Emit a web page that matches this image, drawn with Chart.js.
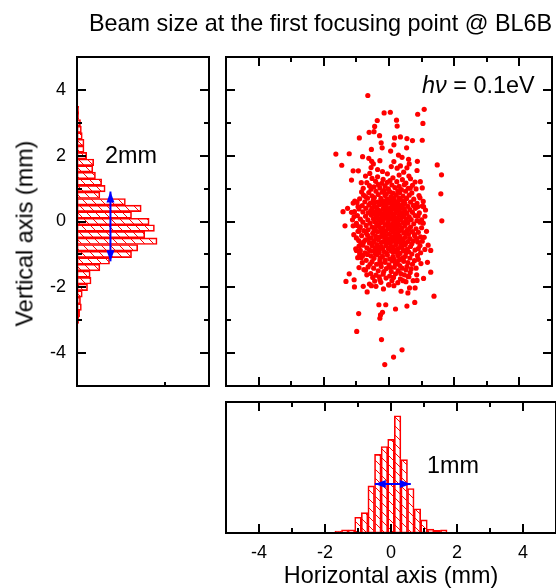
<!DOCTYPE html>
<html>
<head>
<meta charset="utf-8">
<script src="https://cdn.jsdelivr.net/npm/chart.js@4/dist/chart.umd.min.js"></script>
<style>
  body { margin: 0; background: #fff; font-family: "Liberation Sans", Arial, sans-serif; }
  #wrap { position: relative; width: 556px; height: 588px; overflow: hidden; }
  canvas { position: absolute; }
  .lbl { position: absolute; font-size: 23.4px; line-height: 23px; white-space: nowrap; color: #000; }
</style>
</head>
<body>
<div id="wrap">
  <canvas id="cLeft" width="215" height="400" style="left:0;top:0"></canvas>
  <canvas id="cScatter" width="336" height="400" style="left:220px;top:0"></canvas>
  <canvas id="cBottom" width="336" height="193" style="left:220px;top:395px"></canvas>

  <div class="lbl" style="left:89px;top:12px">Beam size at the first focusing point @ BL6B</div>
  <div class="lbl" style="left:-75px;top:222px;width:200px;text-align:center;transform:rotate(-90deg)">Vertical axis (mm)</div>
  <div class="lbl" style="left:105px;top:144px">2mm</div>
  <div class="lbl" style="left:427px;top:454px">1mm</div>
  <div class="lbl" style="left:422px;top:74px"><i>hν</i> = 0.1eV</div>
</div>

<script>
/* ---- data ---- */

// vertical profile (left histogram): bin centre in mm, counts
const vBins   = [3.8, 3.6, 3.4, 3.2, 3.0, 2.8, 2.6, 2.4, 2.2, 2.0, 1.8, 1.6, 1.4, 1.2, 1.0, 0.8, 0.6, 0.4, 0.2, 0.0,
                 -0.2, -0.4, -0.6, -0.8, -1.0, -1.2, -1.4, -1.6, -1.8, -2.0, -2.2, -2.4, -2.6, -2.8, -3.0,
                 -3.2, -3.4, -3.6, -3.8, -4.0, -4.2, -4.4];
const vCounts = [1, 1, 2, 2, 4, 5, 6, 8, 8, 11, 19, 18, 21, 28, 32, 26, 55, 73, 62, 82,
                 88, 77, 91, 69, 62, 37, 26, 15, 16, 12, 6, 4, 5, 3, 2,
                 1, 1, 1, 1, 1, 1, 1];

// horizontal profile (bottom histogram)
const hBins   = [-1.6, -1.4, -1.2, -1.0, -0.8, -0.6, -0.4, -0.2, 0.0, 0.2, 0.4, 0.6, 0.8, 1.0, 1.2, 1.4, 1.6];
const hCounts = [3, 5, 5, 24, 31, 72, 120, 132, 143, 179, 112, 68, 37, 20, 6, 4, 5];

// scatter: sparse outer points (x mm, y mm)
const scatterOuter = [
  [-0.65,3.83],[-0.15,3.30],[0.04,3.32],[0.88,3.26],[1.08,3.41],[-0.36,3.07],[0.23,3.08],[0.25,2.90],
  [-0.44,2.89],[1.04,2.98],[-0.61,2.71],[-0.46,2.73],[-0.91,2.54],[-0.29,2.61],[0.17,2.54],[0.35,2.57],
  [0.55,2.52],[1.02,2.47],[0.72,2.46],[-0.24,2.39],[0.15,2.33],[0.54,2.24],[-0.54,2.19],[-0.21,2.24],
  [-1.63,2.05],[-1.22,2.06],[-0.81,1.97],[-0.62,1.92],[0.05,2.14],[0.29,2.02],[0.60,1.89],[0.87,1.83],
  [-1.45,1.71],[-0.53,1.83],[-0.48,1.75],[0.15,1.82],[0.35,1.69],[1.48,1.72],[-1.10,1.54],[-0.94,1.54],
  [-0.55,1.64],[0.55,1.63],[0.86,1.55],[1.61,1.42],[-1.15,1.26],[-0.59,1.46],[0.07,1.67],[-0.20,1.52],
  [0.96,1.21],[0.61,1.38],[0.31,1.41],[-0.79,1.01],[0.65,1.01],[1.59,0.84],[-0.72,0.76],[-1.10,0.56],
  [-1.27,0.40],[-1.41,0.30],[1.05,0.61],[0.88,0.45],[1.06,0.45],[0.89,0.17],[-1.06,0.30],[-1.07,0.15],
  [-1.35,-0.13],[-1.10,-0.13],[1.62,0.02],[1.05,-0.05],[-0.90,-0.20],[-0.92,-0.30],[-1.02,-0.83],[-0.96,-1.10],
  [1.20,-0.72],[1.28,-0.88],[1.18,-1.24],[1.28,-1.54],[1.06,-1.73],[-1.22,-1.59],[-1.32,-1.82],[-1.07,-1.77],
  [-0.77,-1.46],[-0.67,-2.14],[-0.79,-1.97],[-1.06,-1.99],[-0.54,-1.95],[-0.40,-1.97],[-0.28,-1.77],[-0.17,-2.05],
  [-0.01,-1.92],[0.15,-1.95],[0.37,-2.12],[0.58,-2.17],[0.63,-2.02],[0.80,-2.02],[0.86,-1.79],[1.38,-2.27],
  [0.58,-1.67],[-0.31,-2.53],[-0.10,-2.53],[0.20,-2.66],[0.55,-2.57],[0.79,-2.46],[-0.20,-2.76],[-0.26,-2.84],
  [-0.28,-2.94],[-0.93,-2.80],[-0.99,-3.34],[-0.23,-3.59],[0.40,-3.90],[0.14,-4.12],[-0.13,-4.35]
];

// scatter: dense core points
const scatterCore = [
  [-0.52,1.31],[-0.18,1.28],[0.12,1.33],[0.41,1.27],[0.66,1.30],[-0.35,1.36],
  [-0.68,1.18],[-0.41,1.22],[-0.05,1.19],[0.24,1.21],[0.52,1.17],[0.03,1.24],[-0.22,1.16],
  [-0.60,1.09],[-0.33,1.12],[-0.12,1.08],[0.09,1.11],[0.31,1.07],[0.47,1.12],[0.72,1.10],[-0.46,1.05],
  [-0.55,0.98],[-0.28,1.02],[-0.02,0.99],[0.18,1.03],[0.38,0.97],[0.59,1.01],[0.83,0.99],[-0.15,0.95],[0.27,0.93],
  [-0.84,0.90],[-0.62,0.88],[-0.40,0.92],[-0.21,0.89],[0.02,0.91],[0.12,0.86],[0.33,0.88],[0.51,0.92],[0.70,0.87],[-0.08,0.84],
  [-0.78,0.80],[-0.52,0.78],[-0.33,0.82],[-0.12,0.79],[0.06,0.76],[0.22,0.81],[0.43,0.77],[0.62,0.80],[0.92,0.79],[-0.45,0.73],[0.30,0.72],
  [-0.90,0.69],[-0.66,0.71],[-0.48,0.66],[-0.25,0.70],[-0.05,0.68],[0.14,0.71],[0.35,0.66],[0.54,0.70],[0.76,0.68],[-0.15,0.63],[0.05,0.61],[0.44,0.62],
  [-0.98,0.58],[-0.74,0.60],[-0.57,0.56],[-0.36,0.59],[-0.22,0.55],[0.00,0.57],[0.19,0.54],[0.27,0.60],[0.49,0.56],[0.66,0.59],[0.86,0.55],[-0.08,0.52],
  [-0.82,0.48],[-0.62,0.50],[-0.44,0.46],[-0.29,0.51],[-0.10,0.45],[0.10,0.49],[0.23,0.44],[0.39,0.50],[0.58,0.46],[0.75,0.49],[1.02,0.47],[-0.52,0.41],[0.03,0.41],
  [-0.92,0.38],[-0.71,0.40],[-0.37,0.37],[-0.18,0.39],[-0.02,0.35],[0.14,0.38],[0.31,0.34],[0.47,0.39],[0.64,0.36],[0.81,0.40],[-0.56,0.33],[0.22,0.30],[-0.28,0.30],
  [-1.15,0.28],[-0.80,0.29],[-0.64,0.26],[-0.45,0.29],[-0.12,0.27],[0.06,0.29],[0.40,0.27],[0.55,0.25],[0.72,0.28],[0.93,0.26],[-0.34,0.22],[-0.04,0.20],[0.31,0.19],
  [-0.97,0.18],[-0.72,0.16],[-0.54,0.19],[-0.22,0.17],[0.13,0.16],[0.46,0.17],[0.62,0.14],[0.80,0.18],[1.10,0.16],[-0.40,0.12],[-0.10,0.10],[0.24,0.09],[0.53,0.07],
  [-0.88,0.07],[-0.65,0.05],[-0.48,0.08],[-0.30,0.04],[-0.18,0.02],[0.01,0.06],[0.14,0.02],[0.35,0.05],[0.68,0.06],[0.86,0.03],[-0.80,-0.02],[-0.04,-0.04],[0.44,-0.03],[0.22,-0.06],
  [-1.00,-0.06],[-0.58,-0.05],[-0.37,-0.08],[-0.24,-0.03],[-0.12,-0.10],[0.08,-0.09],[0.32,-0.11],[0.58,-0.04],[0.76,-0.07],[0.95,-0.02],[-0.70,-0.12],[0.49,-0.13],[0.15,-0.15],
  [-0.88,-0.16],[-0.52,-0.17],[-0.43,-0.22],[-0.30,-0.15],[-0.18,-0.20],[-0.03,-0.18],[0.04,-0.24],[0.24,-0.21],[0.40,-0.19],[0.66,-0.17],[0.83,-0.22],[1.00,-0.19],[-0.64,-0.25],[0.55,-0.27],[-0.10,-0.29],
  [-0.95,-0.30],[-0.77,-0.28],[-0.35,-0.31],[-0.22,-0.35],[0.12,-0.32],[0.31,-0.30],[0.45,-0.34],[0.72,-0.31],[0.90,-0.33],[-0.50,-0.36],[0.00,-0.38],[0.20,-0.40],[0.60,-0.39],
  [-0.84,-0.43],[-0.66,-0.41],[-0.41,-0.44],[-0.28,-0.47],[-0.13,-0.42],[0.08,-0.46],[0.34,-0.45],[0.50,-0.48],[0.79,-0.44],[0.97,-0.47],[-0.55,-0.50],[-0.04,-0.52],[0.25,-0.53],[0.64,-0.52],
  [-0.93,-0.58],[-0.72,-0.56],[-0.46,-0.59],[-0.33,-0.55],[-0.18,-0.61],[-0.07,-0.57],[0.14,-0.60],[0.30,-0.62],[0.42,-0.57],[0.58,-0.61],[0.74,-0.59],[0.88,-0.62],[-0.60,-0.65],[0.04,-0.67],[0.21,-0.70],
  [-0.80,-0.72],[-0.52,-0.74],[-0.37,-0.70],[-0.25,-0.76],[-0.10,-0.73],[0.11,-0.77],[0.36,-0.74],[0.50,-0.70],[0.66,-0.76],[0.95,-0.73],[-0.68,-0.80],[0.28,-0.82],[-0.02,-0.83],
  [-0.88,-0.88],[-0.61,-0.86],[-0.44,-0.91],[-0.30,-0.87],[-0.15,-0.92],[0.06,-0.89],[0.19,-0.93],[0.44,-0.88],[0.60,-0.92],[0.80,-0.87],[-0.74,-0.95],[0.34,-0.97],[0.70,-0.99],
  [-0.80,-1.03],[-0.55,-1.05],[-0.36,-1.01],[-0.20,-1.06],[-0.05,-1.02],[0.12,-1.07],[0.27,-1.03],[0.50,-1.06],[0.87,-1.04],[-0.46,-1.12],[0.02,-1.14],[0.38,-1.13],[0.64,-1.11],
  [-0.70,-1.18],[-0.52,-1.22],[-0.28,-1.19],[-0.12,-1.24],[0.10,-1.20],[0.24,-1.26],[0.45,-1.21],[0.58,-1.25],[0.78,-1.19],[-0.38,-1.30],[0.00,-1.32],[0.33,-1.34],
  [-0.64,-1.38],[-0.47,-1.42],[-0.24,-1.37],[-0.08,-1.43],[0.16,-1.39],[0.40,-1.42],[0.55,-1.37],[0.68,-1.44],[-0.33,-1.50],[0.07,-1.52],[0.28,-1.49],
  [-0.56,-1.58],[-0.40,-1.63],[-0.18,-1.60],[0.02,-1.66],[0.20,-1.59],[0.47,-1.62],[0.61,-1.68],[-0.09,-1.72],[0.35,-1.74],
  [-0.44,-1.81],[-0.25,-1.85],[0.09,-1.80],[0.27,-1.86],[0.52,-1.83],[-0.60,-1.90],[0.00,-1.93],
  [-0.47,0.55],[-0.38,0.44],[-0.26,0.61],[-0.16,0.48],[-0.06,0.58],[0.09,0.52],[0.17,0.63],[0.28,0.50],[0.36,0.42],[0.45,0.53],
  [-0.44,0.24],[-0.32,0.35],[-0.20,0.24],[-0.08,0.32],[0.04,0.25],[0.17,0.23],[0.29,0.34],[0.38,0.22],[0.49,0.31],
  [-0.44,-0.01],[-0.34,0.10],[-0.24,0.08],[-0.12,0.14],[-0.04,0.09],[0.07,0.12],[0.19,0.10],[0.29,0.02],[0.39,0.12],[0.54,0.00],
  [-0.46,-0.29],[-0.38,-0.14],[-0.25,-0.25],[-0.14,-0.33],[0.03,-0.13],[0.15,-0.26],[0.26,-0.35],[0.36,-0.24],[0.48,-0.35],[0.60,-0.24],
  [-0.48,-0.63],[-0.39,-0.52],[-0.24,-0.64],[-0.11,-0.50],[0.02,-0.60],[0.13,-0.51],[0.22,-0.62],[0.37,-0.53],[0.49,-0.65],
  [-0.43,-0.80],[-0.30,-0.95],[-0.19,-0.82],[-0.07,-0.97],[0.04,-0.78],[0.15,-0.84],[0.25,-0.91],[0.40,-0.79],[0.52,-0.95],
  [-0.27,-1.12],[-0.12,-1.17],[0.16,-1.15],[0.30,-1.18],[0.45,-1.10]
];

// scatter: lower half of the core, where the cloud is heaviest
const scatterLow = [
  [-0.85,-1.10],[-0.66,-1.00],[-0.42,-0.98],[-0.25,-1.28],[-0.16,-1.52],[0.05,-1.40],[0.20,-1.30],[0.36,-1.58],
  [0.52,-1.47],[0.72,-1.30],[0.90,-1.15],[-0.58,-1.30],[-0.72,-1.48],[-0.50,-1.70],[-0.30,-1.68],[0.14,-1.70],
  [0.43,-1.80],[0.65,-1.55],[0.83,-1.42],[-0.90,-0.98],[-0.62,-0.52],[-0.78,-0.62],[-0.20,-0.45],[0.18,-0.46],
  [0.42,-0.66],[0.70,-0.68],[0.85,-0.52],[-0.36,-0.79],[0.12,-0.93],[0.56,-0.84],[-0.55,-0.90],[0.90,-0.82],
  [-0.08,-0.64],[0.30,-0.43],[-0.70,-0.35],[0.78,-0.40],[1.02,-0.60],[-1.00,-0.50],[0.97,-0.95],[-0.92,-0.75]
];

// scatter: ragged rim of the cloud
const scatterRim = [
  [-1.05,0.62],[-0.95,0.45],[-1.12,0.05],[-0.98,-0.12],[-1.08,-0.40],[-0.86,-0.68],[-1.00,-0.88],[-0.82,-1.25],
  [-0.92,-1.40],[-0.68,-1.62],[0.95,0.72],[1.12,0.35],[1.00,0.05],[1.15,-0.30],[1.08,-0.48],[1.10,-0.85],
  [0.98,-1.28],[0.85,-1.62],[0.74,-1.80],[1.02,1.02],[0.80,1.20],[-0.85,1.18],[-0.72,1.38],[0.45,1.50],
  [-0.35,1.58],[0.25,1.62],[-0.05,1.45],[0.62,1.75],[-0.28,1.85],[0.40,1.95]
];

// axis ticks
const mmLabels = [-4, -2, 0, 2, 4];
const mmTicks  = [-4, -3, -2, -1, 0, 1, 2, 3, 4];

// width markers (blue arrows): fixed position on the count axis, span in mm
const vArrow = { at: 38, from: 0.91, to: -1.21 };
const hArrow = { at: 75, from: -0.49, to: 0.60 };

/* ---- drawing helpers ---- */

const RED = '#ff0000';
const BLUE = '#0000ff';
const FONT = '"Liberation Sans", Arial, sans-serif';

function hatch() {
    const c = document.createElement('canvas');
    c.width = 9; c.height = 9;
    const g = c.getContext('2d');
    g.strokeStyle = RED;
    g.lineWidth = 1;
    g.beginPath();
    g.moveTo(-1, -1); g.lineTo(10, 10);
    g.moveTo(-1, 8);  g.lineTo(1, 10);
    g.moveTo(8, -1);  g.lineTo(10, 1);
    g.stroke();
    return g.createPattern(c, 'repeat');
}

function tickList(vals) {
    return vals.map(v => ({ v: v, len: v % 2 === 0 ? 9 : 5 }));
}

// box frame + inward tick marks
const frameTicks = {
    id: 'frameTicks',
    afterDraw(chart, args, o) {
        const { ctx, chartArea: a, scales } = chart;
        ctx.save();
        ctx.strokeStyle = '#000';
        ctx.lineWidth = 2;
        ctx.beginPath();
        (o.x || []).forEach(t => {
            const px = Math.round(scales.x.getPixelForValue(t.v));
            if (o.xSides.includes('bottom')) { ctx.moveTo(px, a.bottom); ctx.lineTo(px, a.bottom - t.len); }
            if (o.xSides.includes('top'))    { ctx.moveTo(px, a.top);    ctx.lineTo(px, a.top + t.len); }
        });
        (o.y || []).forEach(t => {
            const py = Math.round(scales.y.getPixelForValue(t.v));
            if (o.ySides.includes('left'))  { ctx.moveTo(a.left, py);  ctx.lineTo(a.left + t.len, py); }
            if (o.ySides.includes('right')) { ctx.moveTo(a.right, py); ctx.lineTo(a.right - t.len, py); }
        });
        ctx.stroke();
        ctx.strokeRect(a.left, a.top, a.right - a.left, a.bottom - a.top);
        ctx.restore();
    }
};

// double headed arrow
const arrows = {
    id: 'arrows',
    afterDatasetsDraw(chart, args, o) {
        if (!o.list) return;
        const { ctx, scales } = chart;
        o.list.forEach(ar => {
            const x1 = scales.x.getPixelForValue(ar.x1), y1 = scales.y.getPixelForValue(ar.y1);
            const x2 = scales.x.getPixelForValue(ar.x2), y2 = scales.y.getPixelForValue(ar.y2);
            ctx.save();
            ctx.strokeStyle = BLUE;
            ctx.fillStyle = BLUE;
            ctx.lineWidth = 2;
            ctx.beginPath(); ctx.moveTo(x1, y1); ctx.lineTo(x2, y2); ctx.stroke();
            [[x1, y1, x2, y2], [x2, y2, x1, y1]].forEach(([tx, ty, fx, fy]) => {
                const ang = Math.atan2(ty - fy, tx - fx);
                const L = 11, W = 4;
                ctx.beginPath();
                ctx.moveTo(tx, ty);
                ctx.lineTo(tx - L * Math.cos(ang) + W * Math.sin(ang), ty - L * Math.sin(ang) - W * Math.cos(ang));
                ctx.lineTo(tx - L * Math.cos(ang) - W * Math.sin(ang), ty - L * Math.sin(ang) + W * Math.cos(ang));
                ctx.closePath();
                ctx.fill();
            });
            ctx.restore();
        });
    }
};

const base = {
    responsive: false,
    animation: false,
    events: []
};

/* ---- left: vertical profile ---- */
new Chart(document.getElementById('cLeft'), {
    type: 'bar',
    data: {
        datasets: [{
            data: vBins.map((b, i) => ({ x: vCounts[i], y: b })),
            backgroundColor: hatch(),
            borderColor: RED,
            borderWidth: 1,
            borderSkipped: false,
            barPercentage: 1,
            categoryPercentage: 1
        }]
    },
    options: Object.assign({}, base, {
        indexAxis: 'y',
        layout: { padding: { top: 57, right: 6, bottom: 14, left: 0 } },
        plugins: {
            legend: { display: false },
            tooltip: { enabled: false },
            frameTicks: { x: [{ v: 100, len: 4 }], xSides: ['bottom'], y: tickList(mmTicks), ySides: ['left', 'right'] },
            arrows: { list: [{ x1: vArrow.at, y1: vArrow.from, x2: vArrow.at, y2: vArrow.to }] }
        },
        scales: {
            x: { type: 'linear', display: false, min: 0, max: 150, offset: false },
            y: {
                type: 'linear', min: -5, max: 5, offset: false,
                grid: { display: false, drawTicks: false },
                border: { display: false },
                ticks: { color: '#000', padding: 11, font: { family: FONT, size: 18 } },
                afterBuildTicks: s => { s.ticks = mmLabels.map(v => ({ value: v })); },
                afterFit: s => { s.width = 77; s.paddingTop = 0; s.paddingBottom = 0; }
            }
        }
    }),
    plugins: [frameTicks, arrows]
});

/* ---- scatter ---- */
new Chart(document.getElementById('cScatter'), {
    type: 'scatter',
    data: {
        datasets: [{
            data: scatterOuter.concat(scatterCore, scatterLow, scatterRim).map(p => ({ x: p[0], y: p[1] })),
            pointRadius: 2.6,
            pointBackgroundColor: RED,
            pointBorderWidth: 0
        }]
    },
    options: Object.assign({}, base, {
        layout: { padding: { top: 57, right: 0, bottom: 14, left: 6 } },
        plugins: {
            legend: { display: false },
            tooltip: { enabled: false },
            frameTicks: { x: tickList(mmTicks), xSides: ['top', 'bottom'], y: tickList(mmTicks), ySides: ['left', 'right'] }
        },
        scales: {
            x: { type: 'linear', display: false, min: -5, max: 5 },
            y: { type: 'linear', display: false, min: -5, max: 5 }
        }
    }),
    plugins: [frameTicks]
});

/* ---- bottom: horizontal profile ---- */
new Chart(document.getElementById('cBottom'), {
    type: 'bar',
    data: {
        datasets: [{
            data: hBins.map((b, i) => ({ x: b, y: hCounts[i] })),
            backgroundColor: hatch(),
            borderColor: RED,
            borderWidth: 1,
            borderSkipped: false,
            barPercentage: 1,
            categoryPercentage: 1
        }]
    },
    options: Object.assign({}, base, {
        layout: { padding: { top: 7, right: 0, bottom: 0, left: 6 } },
        plugins: {
            legend: { display: false },
            tooltip: { enabled: false },
            frameTicks: { x: tickList(mmTicks), xSides: ['top', 'bottom'] },
            arrows: { list: [{ x1: hArrow.from, y1: hArrow.at, x2: hArrow.to, y2: hArrow.at }] }
        },
        scales: {
            x: {
                type: 'linear', min: -5, max: 5, offset: false,
                grid: { display: false, drawTicks: false, offset: false },
                border: { display: false },
                ticks: { color: '#000', padding: 9, font: { family: FONT, size: 18 } },
                title: { display: true, text: 'Horizontal axis (mm)', color: '#000', font: { family: FONT, size: 23.4, lineHeight: 1 }, padding: { top: 4, bottom: 0 } },
                afterBuildTicks: s => { s.ticks = mmLabels.map(v => ({ value: v })); },
                afterFit: s => { s.height = 55; }
            },
            y: { type: 'linear', display: false, min: 0, max: 200 }
        }
    }),
    plugins: [frameTicks, arrows]
});
</script>
</body>
</html>
